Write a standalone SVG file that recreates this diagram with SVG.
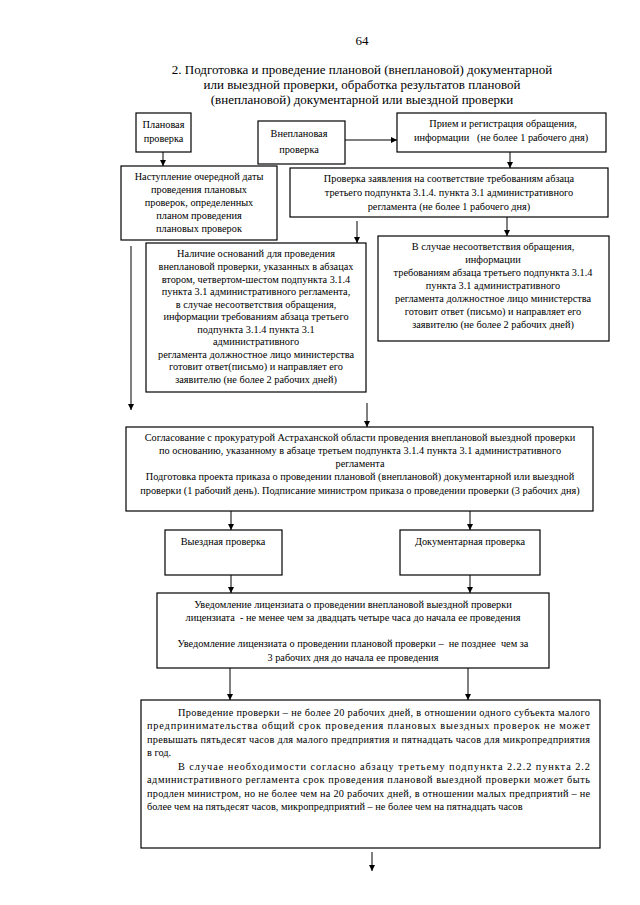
<svg xmlns="http://www.w3.org/2000/svg" width="640" height="905" viewBox="0 0 640 905">
<defs>
<style>
.b{fill:none;stroke:#000;stroke-width:1.2}
.c{stroke:#000;stroke-width:1;fill:none;marker-end:url(#ah)}
text{font-family:"Liberation Serif","Times New Roman",serif;fill:#000}
.t{font-size:10.3px;text-anchor:middle}
.l{font-size:10.3px}
.h{font-size:13px;text-anchor:middle}
</style>
<marker id="ah" markerWidth="6" markerHeight="8" refX="6" refY="4" orient="auto" markerUnits="userSpaceOnUse"><path d="M0,1 L6,4 L0,7 z" fill="#000"/></marker>
</defs>
<rect width="640" height="905" fill="#fff"/>
<g id="header">
<text class="h" x="362" y="45" font-size="14">64</text>
<text class="h" x="362" y="74">2. Подготовка и проведение плановой (внеплановой) документарной</text>
<text class="h" x="362" y="89">или выездной проверки, обработка результатов плановой</text>
<text class="h" x="362" y="104">(внеплановой) документарной или выездной проверки</text>
</g>
<g id="connectors">
<line class="c" x1="163" y1="152" x2="163" y2="166"/>
<line class="c" x1="345" y1="140" x2="397" y2="140"/>
<line class="c" x1="510" y1="152" x2="510" y2="168"/>
<line class="c" x1="357" y1="221" x2="357" y2="243"/>
<line class="c" x1="507" y1="217" x2="507" y2="236"/>
<line class="c" x1="131" y1="246" x2="131" y2="410"/>
<line class="c" x1="367" y1="403" x2="367" y2="427"/>
<line class="c" x1="231" y1="511" x2="231" y2="530"/>
<line class="c" x1="470" y1="511" x2="470" y2="530"/>
<line class="c" x1="231" y1="575" x2="231" y2="593"/>
<line class="c" x1="470" y1="575" x2="470" y2="593"/>
<line class="c" x1="230" y1="668" x2="230" y2="700"/>
<line class="c" x1="468" y1="668" x2="468" y2="700"/>
<line class="c" x1="372" y1="852" x2="372" y2="871"/>
</g>
<g id="n1">
<rect class="b" x="136" y="113" width="55" height="39"/>
<text class="t" x="163.5" y="128">Плановая</text>
<text class="t" x="163.5" y="142">проверка</text>
</g>
<g id="n2">
<rect class="b" x="258" y="121" width="87" height="43"/>
<text class="t" x="299" y="137">Внеплановая</text>
<text class="t" x="299" y="153">проверка</text>
</g>
<g id="n3">
<rect class="b" x="397" y="113" width="209" height="39"/>
<text class="t" x="503" y="127">Прием и регистрация обращения,</text>
<text class="t" x="501" y="141" xml:space="preserve">информации   (не более 1 рабочего дня)</text>
</g>
<g id="n4">
<rect class="b" x="121" y="166" width="156" height="74"/>
<text class="t" x="199" y="180">Наступление очередной даты</text>
<text class="t" x="199" y="193">проведения плановых</text>
<text class="t" x="199" y="206">проверок, определенных</text>
<text class="t" x="199" y="219">планом проведения</text>
<text class="t" x="199" y="232">плановых проверок</text>
</g>
<g id="n5">
<rect class="b" x="290" y="168" width="318" height="49"/>
<text class="t" x="449" y="182">Проверка заявления на соответствие требованиям абзаца</text>
<text class="t" x="449" y="196">третьего подпункта 3.1.4. пункта 3.1 административного</text>
<text class="t" x="449" y="210">регламента (не более 1 рабочего дня)</text>
</g>
<g id="n6">
<rect class="b" x="146" y="243" width="220" height="149"/>
<text class="t" x="256" y="257">Наличие оснований для проведения</text>
<text class="t" x="256" y="270">внеплановой проверки, указанных в абзацах</text>
<text class="t" x="256" y="282.5">втором, четвертом-шестом подпункта 3.1.4</text>
<text class="t" x="256" y="295">пункта 3.1 административного регламента,</text>
<text class="t" x="256" y="307.5">в случае несоответствия обращения,</text>
<text class="t" x="256" y="320">информации требованиям абзаца третьего</text>
<text class="t" x="256" y="332.5">подпункта 3.1.4 пункта 3.1</text>
<text class="t" x="256" y="345">административного</text>
<text class="t" x="256" y="357.5">регламента должностное лицо министерства</text>
<text class="t" x="256" y="370">готовит ответ(письмо) и направляет его</text>
<text class="t" x="256" y="382.5">заявителю (не более 2 рабочих дней)</text>
</g>
<g id="n7">
<rect class="b" x="378" y="236" width="231" height="105"/>
<text class="t" x="493" y="250">В случае несоответствия обращения,</text>
<text class="t" x="493" y="263">информации</text>
<text class="t" x="493" y="276">требованиям абзаца третьего подпункта 3.1.4</text>
<text class="t" x="493" y="289">пункта 3.1 административного</text>
<text class="t" x="493" y="302">регламента должностное лицо министерства</text>
<text class="t" x="493" y="315">готовит ответ (письмо) и направляет его</text>
<text class="t" x="493" y="328">заявителю (не более 2 рабочих дней)</text>
</g>
<g id="n8">
<rect class="b" x="126" y="427" width="467" height="84"/>
<text class="t" x="360" y="441">Согласование с прокуратурой Астраханской области проведения внеплановой выездной проверки</text>
<text class="t" x="360" y="454">по основанию, указанному в абзаце третьем подпункта 3.1.4 пункта 3.1 административного</text>
<text class="t" x="360" y="467">регламента</text>
<text class="t" x="360" y="480">Подготовка проекта приказа о проведении плановой (внеплановой) документарной или выездной</text>
<text class="t" x="360" y="494">проверки (1 рабочий день). Подписание министром приказа о проведении проверки (3 рабочих дня)</text>
</g>
<g id="n9">
<rect class="b" x="165" y="530" width="117" height="45"/>
<text class="t" x="223" y="545">Выездная проверка</text>
</g>
<g id="n10">
<rect class="b" x="400" y="530" width="140" height="45"/>
<text class="t" x="470" y="545">Документарная проверка</text>
</g>
<g id="n11">
<rect class="b" x="157" y="593" width="392" height="75"/>
<text class="t" x="353" y="608">Уведомление лицензиата о проведении внеплановой выездной проверки</text>
<text class="t" x="353" y="621" xml:space="preserve">лицензиата  - не менее чем за двадцать четыре часа до начала ее проведения</text>
<text class="t" x="353" y="647" xml:space="preserve">Уведомление лицензиата о проведении плановой проверки –  не позднее  чем за</text>
<text class="t" x="353" y="661">3 рабочих дня до начала ее проведения</text>
</g>
<g id="n12">
<rect class="b" x="141" y="700" width="459" height="148"/>
<text class="l" x="178" y="716" textLength="412" lengthAdjust="spacing">Проведение проверки – не более 20 рабочих дней, в отношении одного субъекта малого</text>
<text class="l" x="147" y="729" textLength="443" lengthAdjust="spacing">предпринимательства общий срок проведения плановых выездных проверок не может</text>
<text class="l" x="147" y="743" textLength="443" lengthAdjust="spacing">превышать пятьдесят часов для малого предприятия и пятнадцать часов для микропредприятия</text>
<text class="l" x="147" y="756">в год.</text>
<text class="l" x="178" y="770" textLength="412" lengthAdjust="spacing">В случае необходимости согласно абзацу третьему подпункта 2.2.2 пункта 2.2</text>
<text class="l" x="147" y="783" textLength="443" lengthAdjust="spacing">административного регламента срок проведения плановой выездной проверки может быть</text>
<text class="l" x="147" y="797" textLength="443" lengthAdjust="spacing">продлен министром, но  не более чем на 20 рабочих дней, в отношении малых предприятий – не</text>
<text class="l" x="147" y="810">более чем на пятьдесят часов, микропредприятий – не более чем на пятнадцать часов</text>
</g>
</svg>
